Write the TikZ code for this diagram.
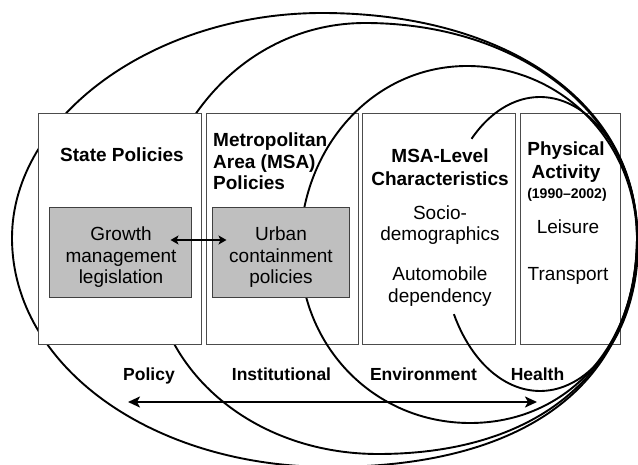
\documentclass[tikz,border=0pt]{standalone}
\usepackage{fontspec}
\setmainfont{Liberation Sans}
\usetikzlibrary{arrows.meta}
% quarter-by-quarter closed curve: L(x,y) T(x,y) R(x,y) B(x,y)
\newcommand{\bshape}[8]{%
 (#1,#2) .. controls (#1,{#2-\kqA*(#2-#4)}) and ({#3-\kqA*(#3-#1)},#4) .. (#3,#4)
 .. controls ({#3+\kqB*(#5-#3)},#4) and (#5,{#6-\kqB*(#6-#4)}) .. (#5,#6)
 .. controls (#5,{#6+\kqC*(#8-#6)}) and ({#7+\kqC*(#5-#7)},#8) .. (#7,#8)
 .. controls ({#7-\kqD*(#7-#1)},#8) and (#1,{#2+\kqD*(#8-#2)}) .. cycle}
\begin{document}
\begin{tikzpicture}[x=1pt,y=-1pt,
  curve/.style={line width=1.9pt, black},
  panel/.style={draw=black!70, line width=1pt, rectangle, inner sep=0pt, minimum height=231pt},
  graybox/.style={draw=black!75, fill=black!25, line width=1pt, rectangle, inner sep=0pt, minimum height=90pt},
  ttl/.style={font=\fontsize{19}{22}\selectfont\bfseries, anchor=base, inner sep=0pt},
  itm/.style={font=\fontsize{19}{22}\selectfont, anchor=base, inner sep=0pt},
  yrs/.style={font=\fontsize{14}{16}\selectfont\bfseries, anchor=base, inner sep=0pt},
  lbl/.style={font=\fontsize{17.5}{20}\selectfont\bfseries, anchor=base, inner sep=0pt},
  bigarrow/.style={line width=2.4pt, {Stealth[length=12pt,width=11pt,inset=3pt]}-{Stealth[length=12pt,width=11pt,inset=3pt]}},
  smallarrow/.style={line width=2pt, {Stealth[length=8pt,width=9pt,inset=2pt]}-{Stealth[length=8pt,width=9pt,inset=2pt]}}]
\useasboundingbox (0,0) rectangle (638,465);
% panels without fill
\node[panel, minimum width=152pt] (metro) at (282,229.5) {};
\node[panel, minimum width=153pt] (msa) at (438.5,229.5) {};
\node[panel, minimum width=100pt] (phys) at (570,229.5) {};
% curves
\def\kqA{0.54}\def\kqB{0.59}\def\kqC{0.64}\def\kqD{0.56}
\draw[curve] \bshape{12}{238}{322}{13}{637}{236}{330}{467};
\def\kqA{0.56}\def\kqB{0.57}\def\kqC{0.62}\def\kqD{0.56}
\draw[curve] \bshape{152}{258}{365}{23}{637}{236}{378}{454};
\def\kqA{0.56}\def\kqB{0.56}\def\kqC{0.58}\def\kqD{0.56}
\draw[curve] \bshape{300}{250}{467}{66}{637}{240}{470}{423};
\draw[curve] plot[domain=225.7:511.5, samples=120] ({540+98*cos(\x)},{244+147*sin(\x)});
% state panel on top
\node[panel, fill=white, minimum width=163pt] (state) at (119.5,229.5) {};
\node[graybox, minimum width=142pt] (growth) at (120,253) {};
\node[graybox, minimum width=137pt] (urban) at (280.5,253) {};
% texts
\node[ttl] (tstate) at (122,162) {State Policies};
\node[ttl, anchor=base west] (tmetroA) at (213,147) {Metropolitan};
\node[ttl, anchor=base west] (tmetroB) at (213,168.5) {Area (MSA)};
\node[ttl, anchor=base west] (tmetroC) at (213,190) {Policies};
\node[ttl] (tmsaA) at (440,163) {MSA-Level};
\node[ttl] (tmsaB) at (440,186) {Characteristics};
\node[itm] (socA) at (440,220) {Socio-};
\node[itm] (socB) at (440,241) {demographics};
\node[itm] (autA) at (440,281) {Automobile};
\node[itm] (autB) at (440,303) {dependency};
\node[ttl] (tphysA) at (566,156) {Physical};
\node[ttl] (tphysB) at (566,179) {Activity};
\node[yrs] (tyrs) at (567,199) {(1990--2002)};
\node[itm] (leis) at (568,234) {Leisure};
\node[itm] (trans) at (568,281) {Transport};
\node[itm] (gA) at (121,241) {Growth};
\node[itm] (gB) at (121,263) {management};
\node[itm] (gC) at (121,284) {legislation};
\node[itm] (uA) at (281,241) {Urban};
\node[itm] (uB) at (281,263) {containment};
\node[itm] (uC) at (281,284) {policies};
\node[lbl] (lpol) at (149,381) {Policy};
\node[lbl] (linst) at (281.5,381) {Institutional};
\node[lbl] (lenv) at (423.5,381) {Environment};
\node[lbl] (lhea) at (537.5,381) {Health};
% arrows
\draw[smallarrow] ([xshift=-21pt,yshift=13pt]growth.east) -- ([xshift=15pt,yshift=13pt]urban.west);
\coordinate (aL) at (128,402);
\coordinate (aR) at (537,402);
\draw[bigarrow] (aL) -- (aR);
\end{tikzpicture}
\end{document}
